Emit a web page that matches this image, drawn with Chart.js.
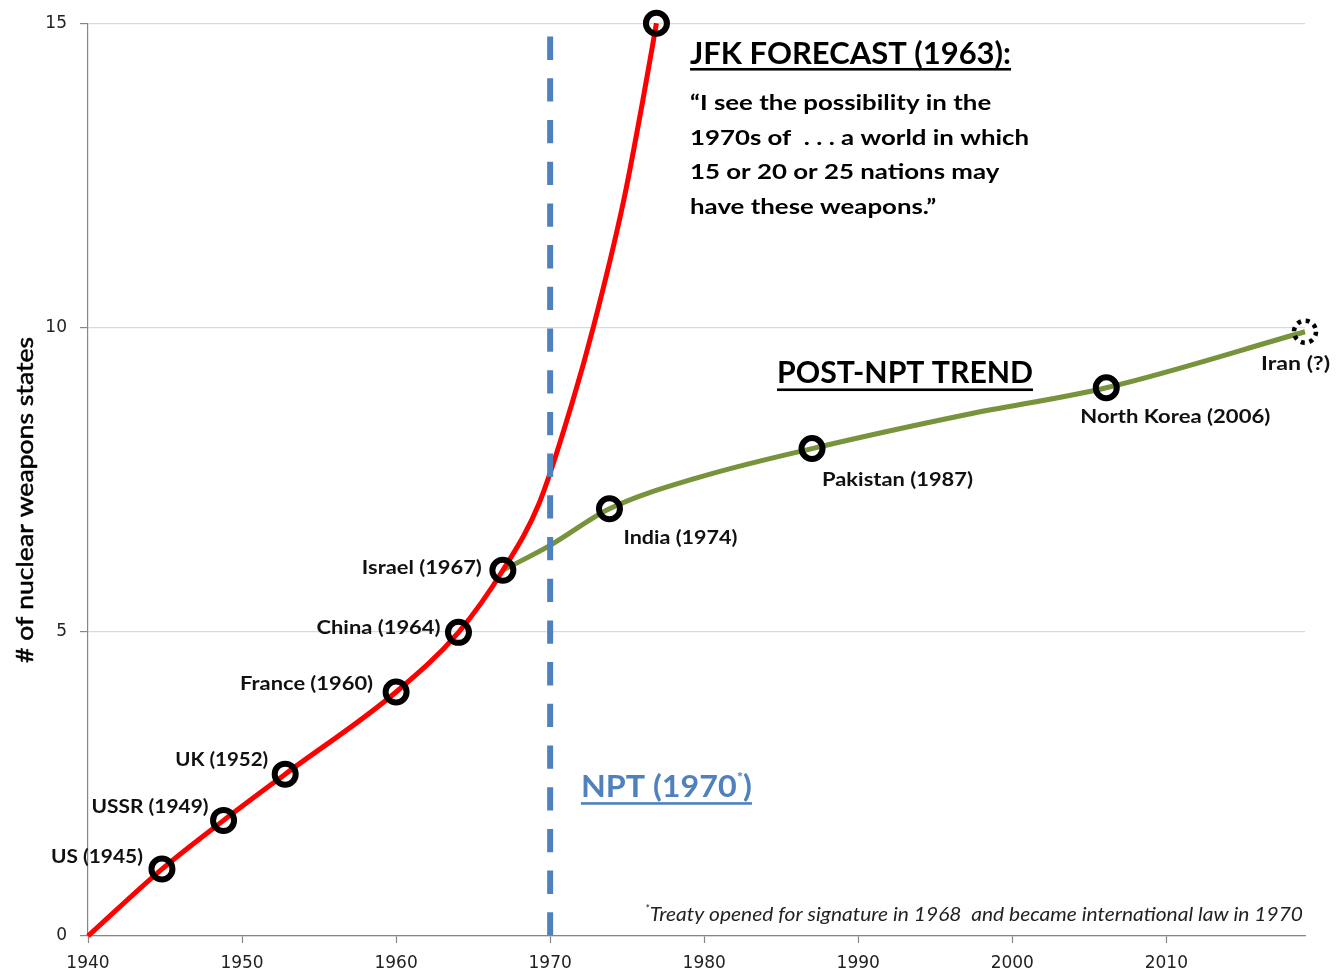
<!DOCTYPE html>
<html><head><meta charset="utf-8">
<script src="https://cdn.jsdelivr.net/npm/chart.js@4/dist/chart.umd.min.js"></script>
<style>html,body{margin:0;padding:0;background:#fff;}#wrap{width:1338px;height:977px;}</style>
</head><body><div id="wrap"><canvas id="c" width="1338" height="977"></canvas></div>
<script>
// ---------- data ----------
const redYears  = [1940, 1944.8, 1948.8, 1952.8, 1960.0, 1964.05, 1966.93, 1969.3, 1971.45, 1972.8, 1974.76, 1976.0, 1976.9];
const redValues = [0, 1.10, 1.90, 2.66, 4.01, 4.99, 6.01, 7.12, 8.78, 10.0, 12.07, 13.71, 15.0];
const greenYears  = [1966.93, 1970.0, 1973.85, 1979.7, 1987.0, 1997.05, 2006.1, 2019.0];
const greenValues = [6.01, 6.42, 7.02, 7.54, 8.01, 8.57, 9.01, 9.93];
const stateLabels = ['US (1945)', 'USSR (1949)', 'UK (1952)', 'France (1960)', 'China (1964)', 'Israel (1967)', 'India (1974)', 'Pakistan (1987)', 'North Korea (2006)'];
const stateYears  = [1944.8, 1948.8, 1952.8, 1960.0, 1964.05, 1966.93, 1973.85, 1987.0, 2006.1];
const stateValues = [1.10, 1.90, 2.66, 4.01, 4.99, 6.01, 7.02, 8.01, 9.01];
const forecastYear = [1976.9];
const forecastValue = [15];
const iranLabel = 'Iran (?)';
const iranYear = 2019.0;
const iranValue = 9.93;
const nptYear = 1970;
const nptRange = [14.78, 0];
const xTickValues = [1940, 1950, 1960, 1970, 1980, 1990, 2000, 2010];
const yTickValues = [0, 5, 10, 15];
const yTitle = '# of nuclear weapons states';
const jfkTitle = 'JFK FORECAST (1963):';
const jfkQuote = ['\u201CI see the possibility in the', '1970s of  . . . a world in which', '15 or 20 or 25 nations may', 'have these weapons.\u201D'];
const trendTitle = 'POST-NPT TREND';
const nptText = ['NPT (1970', '*', ')'];
const footText = ['*', 'Treaty opened for signature in 1968  and became international law in 1970'];

// ---------- label placement (pixels relative to markers) ----------
const labelPlace = [
  {dx:-19, dy:-6, w:92, align:'right'},
  {dx:-15, dy:-7.5, w:117, align:'right'},
  {dx:-17, dy:-8.5, w:93, align:'right'},
  {dx:-23, dy:-1.5, w:133, align:'right'},
  {dx:-18, dy:1.5, w:124, align:'right'},
  {dx:-21, dy:3.5, w:120, align:'right'},
  {dx:14, dy:35, w:114, align:'left'},
  {dx:10, dy:37.5, w:151, align:'left'},
  {dx:-26, dy:35.5, w:190, align:'left'}
];

const FONT = 'Lato';

function measureSegs(ctx, segs) {
  let tot = 0;
  segs.forEach(s => { ctx.font = `${s.style||'normal'} ${s.weight||'bold'} ${s.size}px ${FONT}`; s._w = ctx.measureText(s.t).width; tot += s._w; });
  return tot;
}
function drawSegs(ctx, segs, x, base, o) {
  ctx.save();
  const tot = measureSegs(ctx, segs);
  const sx = o.width ? o.width / tot : 1;
  const left = o.align === 'right' ? x - tot * sx : x;
  ctx.translate(left, base);
  ctx.scale(sx, 1);
  ctx.fillStyle = o.color || '#000';
  ctx.textAlign = 'left';
  ctx.textBaseline = 'alphabetic';
  let cx = 0;
  segs.forEach(s => {
    ctx.font = `${s.style||'normal'} ${s.weight||'bold'} ${s.size}px ${FONT}`;
    ctx.fillText(s.t, cx, -(s.rise||0));
    cx += s._w;
  });
  ctx.restore();
  if (o.underline) {
    ctx.save();
    ctx.fillStyle = o.color || '#000';
    ctx.fillRect(left, base + o.underline.off, tot * sx, o.underline.th);
    ctx.restore();
  }
  return sx;
}

const annot = {
  id: 'annot',
  afterDatasetsDraw(chart) {
    const ctx = chart.ctx, xs = chart.scales.x, ys = chart.scales.y;
    // Iran dashed marker
    const ix = xs.getPixelForValue(iranYear), iy = ys.getPixelForValue(iranValue);
    ctx.save();
    ctx.strokeStyle = '#000'; ctx.lineWidth = 4.5; ctx.setLineDash([4, 4.7]);
    ctx.beginPath(); ctx.arc(ix, iy, 11, 0, Math.PI * 2); ctx.stroke();
    ctx.restore();
    // state labels
    stateLabels.forEach((t, i) => {
      const p = labelPlace[i];
      const px = xs.getPixelForValue(stateYears[i]), py = ys.getPixelForValue(stateValues[i]);
      drawSegs(ctx, [{t, size:18}], px + p.dx, py + p.dy, {width:p.w, align:p.align, color:'#111'});
    });
    drawSegs(ctx, [{t:iranLabel, size:18}], ix - 44, iy + 38, {width:69, color:'#111'});
    // JFK forecast
    const jx = xs.getPixelForValue(1979.08);
    drawSegs(ctx, [{t:jfkTitle, size:30}], jx, ys.getPixelForValue(14.33), {width:321, color:'#000', underline:{off:4, th:2.6}});
    // quote: common horizontal scale from the widest line
    const probe = [{t:jfkQuote[1], size:21}];
    const sx = 339 / measureSegs(ctx, probe);
    const qBase = [13.57, 13.0, 12.435, 11.87];
    jfkQuote.forEach((t, i) => {
      const seg = [{t, size:21}];
      const w = measureSegs(ctx, seg) * sx;
      drawSegs(ctx, seg, jx, ys.getPixelForValue(qBase[i]), {width:w, color:'#000'});
    });
    // post-NPT trend
    drawSegs(ctx, [{t:trendTitle, size:30}], xs.getPixelForValue(1984.73), ys.getPixelForValue(9.08), {width:256, color:'#000', underline:{off:5, th:2.6}});
    // NPT label
    drawSegs(ctx, [{t:nptText[0], size:30}, {t:nptText[1], size:14, rise:15}, {t:nptText[2], size:30}],
      xs.getPixelForValue(1972.0), ys.getPixelForValue(2.29), {width:171, color:'#4f81bd', underline:{off:5.5, th:2.6}});
    // footnote
    drawSegs(ctx, [{t:footText[0], size:11, style:'italic', weight:'normal', rise:8}, {t:footText[1], size:19.5, style:'italic', weight:'normal'}],
      xs.getPixelForValue(2018.87), ys.getPixelForValue(0.25), {width:658, align:'right', color:'#222'});
    // y title
    ctx.save();
    ctx.translate(33, 500);
    ctx.rotate(-Math.PI / 2);
    ctx.font = `normal 24px ${FONT}`;
    const tw = ctx.measureText(yTitle).width;
    ctx.scale(326 / tw, 1);
    ctx.fillStyle = '#000'; ctx.strokeStyle = '#000'; ctx.lineWidth = 0.5;
    ctx.textAlign = 'center'; ctx.textBaseline = 'alphabetic';
    ctx.fillText(yTitle, 0, 0);
    ctx.strokeText(yTitle, 0, 0);
    ctx.restore();
  }
};

const zip = (xs, ys) => xs.map((x, i) => ({x, y: ys[i]}));

new Chart(document.getElementById('c'), {
  type: 'line',
  data: {
    datasets: [
      { label:'states', data: zip(stateYears, stateValues).concat(zip(forecastYear, forecastValue)), showLine:false,
        pointRadius:10.5, pointHoverRadius:10.5, pointBorderWidth:6, pointBorderColor:'#000', pointBackgroundColor:'rgba(0,0,0,0)', clip:false, order:1 },
      { label:'NPT', data: nptRange.map(v => ({x:nptYear, y:v})), borderColor:'#4f81bd', borderWidth:6, borderDash:[23.3, 18.4],
        pointRadius:0, tension:0, clip:false, order:2, borderCapStyle:'butt' },
      { label:'forecast', data: zip(redYears, redValues), borderColor:'#ff0000', borderWidth:5, pointRadius:0,
        cubicInterpolationMode:'monotone', clip:false, order:3 },
      { label:'post-NPT', data: zip(greenYears, greenValues), borderColor:'#77933c', borderWidth:5, pointRadius:0,
        cubicInterpolationMode:'monotone', clip:false, order:4 }
    ]
  },
  options: {
    responsive:false, animation:false, devicePixelRatio:1,
    layout:{padding:{top:21, right:33, left:0, bottom:0}},
    plugins:{legend:{display:false}, tooltip:{enabled:false}},
    events:[],
    scales:{
      x:{ type:'linear', min:1940, max:2019,
        afterBuildTicks(s){ s.ticks = xTickValues.map(v => ({value:v})); },
        afterFit(s){ s.height = 41; },
        grid:{drawOnChartArea:false, drawTicks:true, tickLength:7, tickColor:'#868686', tickWidth:1.2},
        border:{color:'#868686', width:1.2},
        ticks:{font:{family:'DejaVu Sans', size:17}, color:'#222', padding:10, maxRotation:0, autoSkip:false, callback:v => String(v)} },
      y:{ min:0, max:15,
        afterBuildTicks(s){ s.ticks = yTickValues.map(v => ({value:v})); },
        afterFit(s){ s.width = 88; },
        grid:{color:'#d9d9d9', lineWidth:1.2, tickColor:'#868686', tickLength:8, tickWidth:1.2},
        border:{color:'#868686', width:1.2},
        ticks:{font:{family:'DejaVu Sans', size:17}, color:'#222', padding:13, callback:v => String(v)} }
    }
  },
  plugins:[annot]
});
</script></body></html>
